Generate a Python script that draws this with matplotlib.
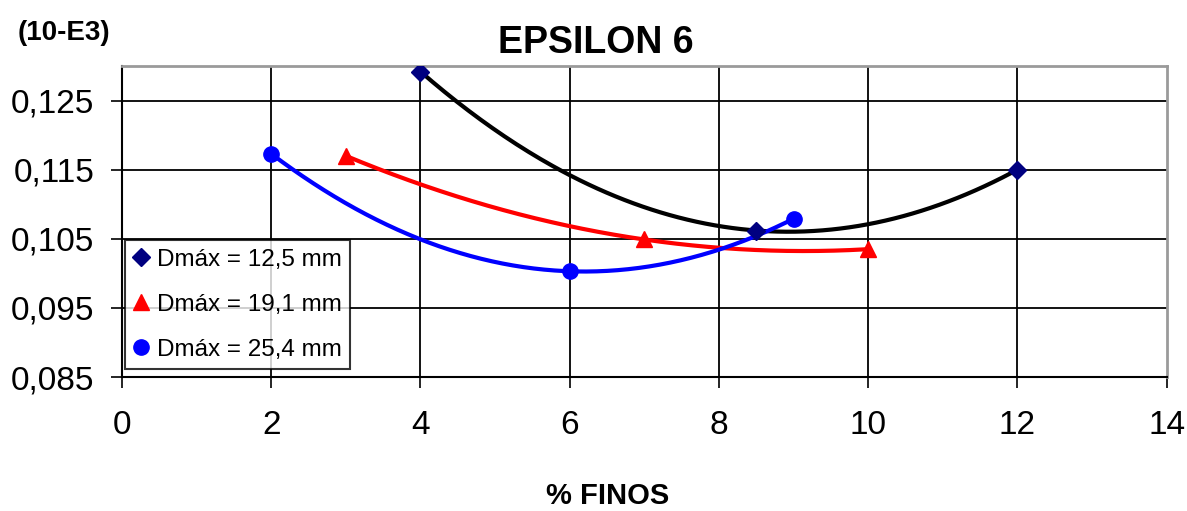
import matplotlib
matplotlib.use("Agg")
import matplotlib.pyplot as plt
from matplotlib.lines import Line2D
import numpy as np

plt.rcParams["font.family"] = ["Liberation Sans", "DejaVu Sans"]

# ── data ─────────────────────────────────────────────────────────
labels = ["Dmáx = 12,5 mm", "Dmáx = 19,1 mm", "Dmáx = 25,4 mm"]

finos_125 = [4, 8.5, 12]
eps_125 = [0.1292, 0.1062, 0.1150]

finos_191 = [3, 7, 10]
eps_191 = [0.1170, 0.1049, 0.1035]

finos_254 = [2, 6, 9]
eps_254 = [0.1173, 0.1003, 0.1079]

x_ticks = [0, 2, 4, 6, 8, 10, 12, 14]
y_ticks = [0.085, 0.095, 0.105, 0.115, 0.125]
y_tick_labels = ["0,085", "0,095", "0,105", "0,115", "0,125"]

# ── styles ───────────────────────────────────────────────────────
series = [
    (finos_125, eps_125, "black", "#000080", "D", 9),
    (finos_191, eps_191, "#ff0000", "#ff0000", "^", 12),
    (finos_254, eps_254, "#0000ff", "#0000ff", "o", 11),
]

fig = plt.figure(figsize=(11.87, 5.11), dpi=100)
ax = fig.add_axes([0.1028, 0.2622, 0.8800, 0.6086])

# grid lines (black, Excel style)
for yt in y_ticks:
    ax.axhline(yt, color="black", lw=1.3, zorder=1)
for xt in x_ticks[1:-1]:
    ax.axvline(xt, color="black", lw=1.3, zorder=1)

handles = []
for xs, ys, lc, mc, mk, ms in series:
    # 2nd order trendline through the points
    coef = np.polyfit(xs, ys, 2)
    xx = np.linspace(min(xs), max(xs), 200)
    ax.plot(xx, np.polyval(coef, xx), color=lc, lw=3.0, zorder=3,
            solid_capstyle="butt")
    ax.plot(xs, ys, ls="none", marker=mk, ms=ms, color=mc, zorder=4)
    handles.append(Line2D([], [], ls="none", marker=mk, ms=ms, color=mc))

ax.set_xlim(0, 14)
ax.set_ylim(0.085, 0.13)
ax.set_xticks(x_ticks)
ax.set_xticklabels([str(t) for t in x_ticks])
ax.set_yticks(y_ticks)
ax.set_yticklabels(y_tick_labels)
ax.tick_params(direction="out", length=8, width=1.2, labelsize=24,
               color="black")
ax.tick_params(axis="x", pad=16)
ax.tick_params(axis="y", pad=12)

ax.spines["left"].set_color("black")
ax.spines["bottom"].set_color("black")
ax.spines["left"].set_linewidth(1.5)
ax.spines["bottom"].set_linewidth(1.5)
for s in ("top", "right"):
    ax.spines[s].set_color("#9a9a9a")
    ax.spines[s].set_linewidth(2)

leg = ax.legend(handles, labels, loc="lower left",
                bbox_to_anchor=(0.003, 0.025), fontsize=17.5,
                frameon=True, fancybox=False, handlelength=0.6,
                handletextpad=0.35, labelspacing=0.95, borderpad=0.35,
                borderaxespad=0.0)
leg.get_frame().set_edgecolor("black")
leg.get_frame().set_linewidth(1.5)
leg.set_zorder(5)

fig.text(0.502, 0.915, "EPSILON 6", fontsize=27, fontweight="bold",
         ha="center", va="center")
fig.text(0.015, 0.935, "(10-E3)", fontsize=20, fontweight="bold",
         ha="left", va="center")
fig.text(0.512, 0.03, "% FINOS", fontsize=21, fontweight="bold",
         ha="center", va="center")

fig.savefig("out.png", dpi=100, facecolor="white")
plt.close(fig)
